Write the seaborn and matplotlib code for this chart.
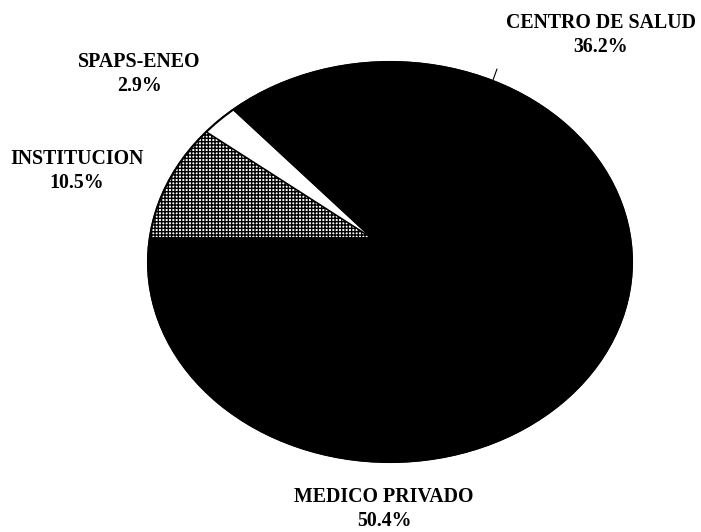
import matplotlib
matplotlib.use("Agg")
import matplotlib.pyplot as plt
import seaborn as sns
from matplotlib.patches import Ellipse

# Fuente de atención (porcentaje de casos)
categories = ["INSTITUCION", "SPAPS-ENEO", "CENTRO DE SALUD", "MEDICO PRIVADO"]
shares = [10.5, 2.9, 36.2, 50.4]

sns.set_theme(style="white")
plt.rcParams["font.family"] = ["Liberation Serif", "DejaVu Serif"]
plt.rcParams["hatch.linewidth"] = 1.0

W, H = 701, 532
RX, RY = 242, 200          # pixel radii of the elliptical pie


def px(x, y):
    """Figure pixel position -> data coordinates (1 unit = one radius)."""
    return (x / RX, (H - y) / RY)


fig = plt.figure(figsize=(W / 100, H / 100), dpi=100)
ax = fig.add_axes([0, 0, 1, 1])

# Elliptical body of the pie
rim = Ellipse(px(390, 262), 2, 2, facecolor="black", edgecolor="black", lw=1.2, zorder=1)
ax.add_patch(rim)

faces = ["white", "white", "black", "black"]
hatches = ["+++++", "", "", ""]
wedges, _ = ax.pie(
    shares,
    center=px(372, 238),
    radius=1.6,
    startangle=180,
    counterclock=False,
    colors=faces,
    wedgeprops=dict(edgecolor="black", linewidth=1.0, zorder=2),
    frame=True,
)
for w, h in zip(wedges, hatches):
    w.set_clip_on(True)
    w.set_clip_path(rim)
    if h:
        w.set_hatch(h)

# Outline on top of the slices
ax.add_patch(Ellipse(px(390, 262), 2, 2, facecolor="none", edgecolor="black", lw=1.5, zorder=3))

ax.set_aspect("auto")
ax.set_xlim(0, W / RX)
ax.set_ylim(0, H / RY)
ax.axis("off")

# Slice labels
label_pos = {
    "INSTITUCION": (77, 171),
    "SPAPS-ENEO": (139, 74),
    "CENTRO DE SALUD": (601, 35),
    "MEDICO PRIVADO": (384, 509),
}
for name, pct in zip(categories, shares):
    ax.text(*px(*label_pos[name]), f"{name}\n{pct:.1f}%", ha="center", va="center",
            fontsize=14.3, fontweight="bold", linespacing=1.3, color="black", zorder=5)

# short leader tick towards CENTRO DE SALUD
x0, y0 = px(493, 80)
x1, y1 = px(497, 69)
ax.plot([x0, x1], [y0, y1], color="black", lw=0.8, zorder=4)

fig.savefig("out.png", dpi=100, facecolor="white")
